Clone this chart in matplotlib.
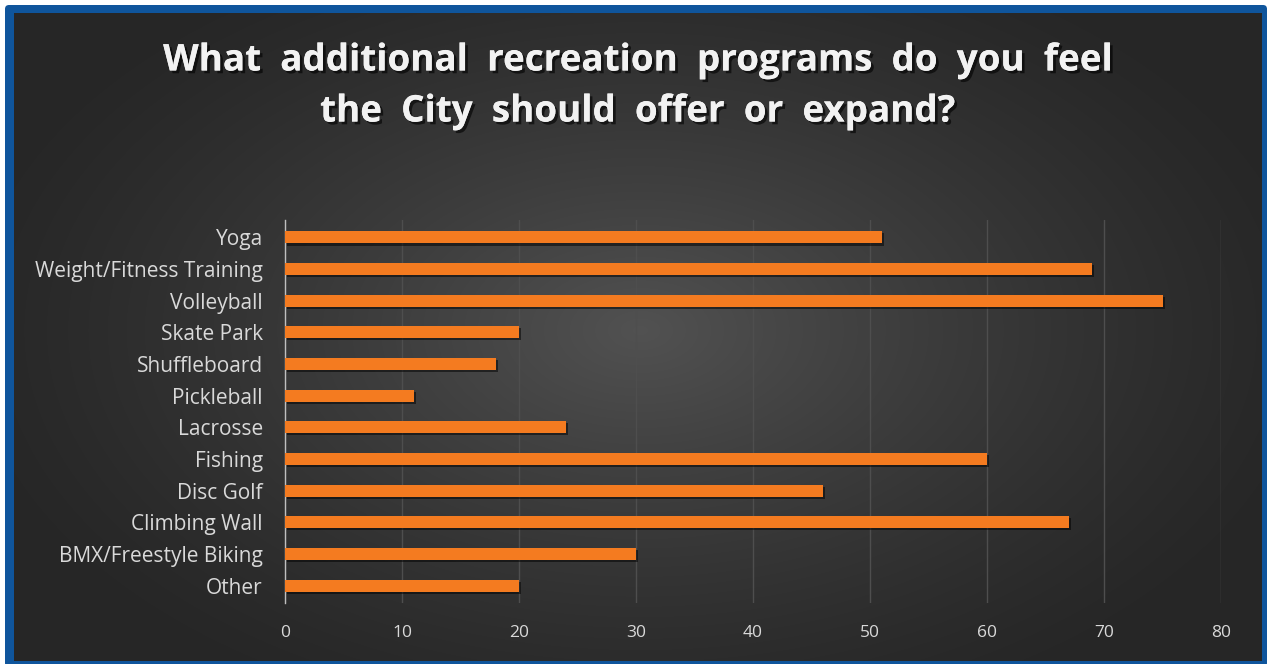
import numpy as np
import matplotlib
import matplotlib.pyplot as plt
import matplotlib.patheffects as pe
from matplotlib.patches import FancyBboxPatch

matplotlib.use("Agg")

programs = [
    "Yoga",
    "Weight/Fitness Training",
    "Volleyball",
    "Skate Park",
    "Shuffleboard",
    "Pickleball",
    "Lacrosse",
    "Fishing",
    "Disc Golf",
    "Climbing Wall",
    "BMX/Freestyle Biking",
    "Other",
]
responses = [51, 69, 75, 20, 18, 11, 24, 60, 46, 67, 30, 20]
xticks = [0, 10, 20, 30, 40, 50, 60, 70, 80]

W, H = 1267, 664
fig = plt.figure(figsize=(W / 100, H / 100), dpi=100)
fig.patch.set_facecolor("white")

# blue frame around the chart
frame = fig.add_axes([0, 0, 1, 1])
frame.set_xlim(0, W)
frame.set_ylim(H, 0)
frame.axis("off")
frame.add_patch(FancyBboxPatch((5, 5), W - 5, H - 2, boxstyle="round,pad=0,rounding_size=4",
                               facecolor="#0F559C", edgecolor="none"))

# dark radial gradient panel
x0, x1, y0, y1 = 14, 1262, 13, 661
yy, xx = np.mgrid[0:y1 - y0, 0:x1 - x0]
cx, cy = 640 - x0, 330 - y0
r = np.sqrt(((xx - cx) / 700.0) ** 2 + ((yy - cy) / 420.0) ** 2)
shade = np.clip(1 - r, 0, 1) ** 1.3
lo, hi = np.array([0.15, 0.15, 0.15]), np.array([0.32, 0.32, 0.32])
img = lo + (hi - lo) * shade[..., None]
frame.imshow(img, extent=(x0, x1, y1, y0), zorder=1, aspect="auto")
frame.set_xlim(0, W)
frame.set_ylim(H, 0)

title = "What  additional  recreation  programs  do  you  feel\nthe  City  should  offer  or  expand?"
frame.text(637, 86, title, ha="center", va="center", fontsize=26.5, fontweight="bold",
           family="Open Sans", color="#F2F2F2", linespacing=1.45, zorder=3,
           path_effects=[pe.withSimplePatchShadow(offset=(2, -2), shadow_rgbFace="black", alpha=0.6),
                         pe.Normal()])

ax = fig.add_axes([285 / W, 1 - 603 / H, (1221 - 285) / W, (603 - 220) / H])
ax.patch.set_alpha(0)
y = np.arange(len(programs))
ax.barh(y, responses, height=0.38, color="#F47B20", zorder=3,
        path_effects=[pe.withSimplePatchShadow(offset=(1.5, -1.5), shadow_rgbFace="black", alpha=0.5),
                      pe.Normal()])
ax.set_xlim(0, 80)
ax.set_ylim(len(programs) - 0.45, -0.55)
ax.set_xticks(xticks)
ax.set_yticks(y)
ax.set_yticklabels(programs)
ax.grid(axis="x", color="#4E4E4E", linewidth=1, zorder=0)
for side in ["top", "right", "bottom"]:
    ax.spines[side].set_visible(False)
ax.spines["left"].set_color("#BFBFBF")
ax.spines["left"].set_linewidth(1)
ax.tick_params(axis="both", length=0, colors="#D9D9D9")
ax.tick_params(axis="x", pad=16, labelsize=12.5)
ax.tick_params(axis="y", pad=16, labelsize=15)
for lbl in ax.get_xticklabels() + ax.get_yticklabels():
    lbl.set_family("Open Sans")

fig.savefig("out.png", dpi=100)
